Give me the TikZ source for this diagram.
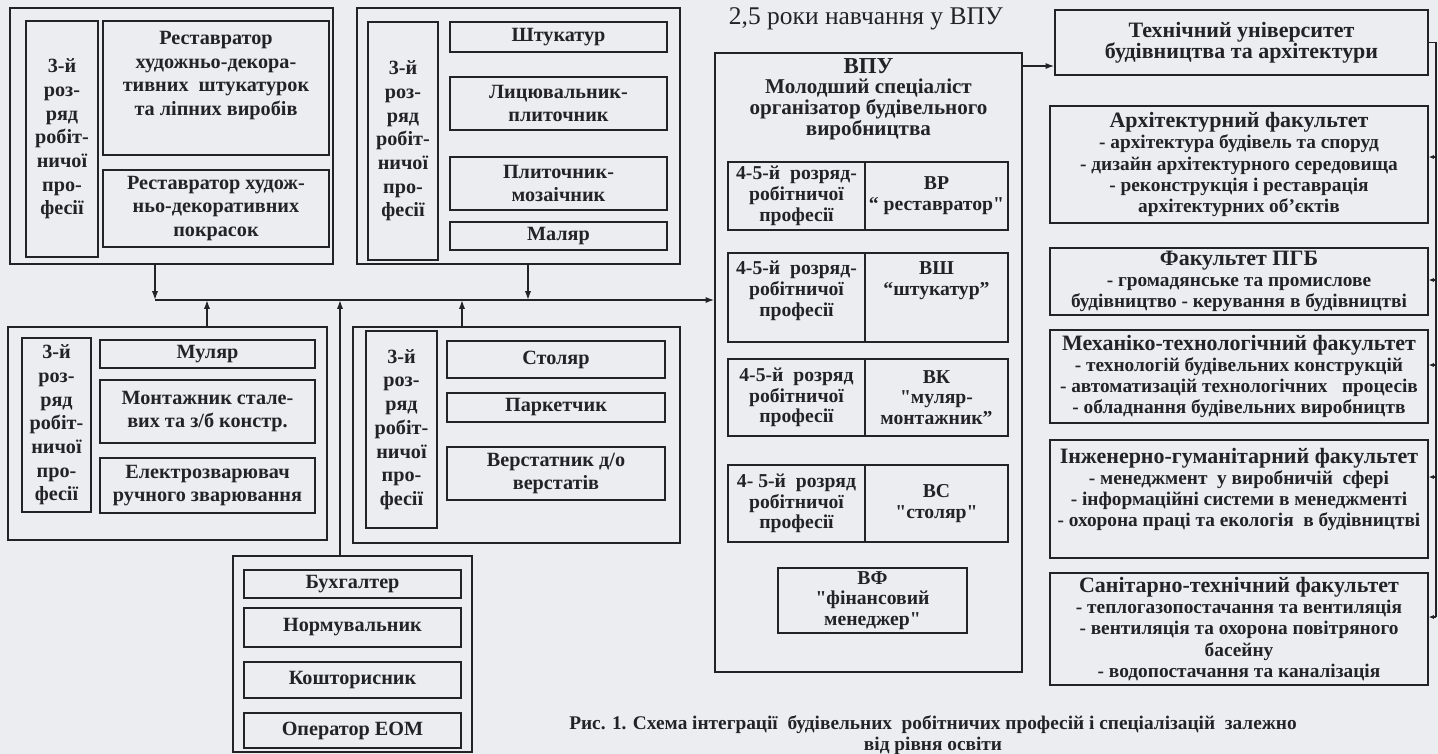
\documentclass[tikz,border=0pt]{standalone}
\usepackage{fontspec}
\setmainfont{Liberation Serif}
\usetikzlibrary{arrows.meta}

\definecolor{paper}{RGB}{236,237,241}
\definecolor{ink}{RGB}{35,35,38}

\newcommand{\rankthree}{3-й\\роз-\\ряд\\робіт-\\ничої\\про-\\фесії}
\newcommand{\fhead}[1]{{\fontsize{12.5}{13}\selectfont #1}}
\newcommand{\qq}{\textquotedbl}

\tikzset{
  sz/.style 2 args={minimum width=#1*0.02cm,minimum height=#2*0.02cm},
  grp/.style={draw=ink,line width=0.8pt,rectangle,inner sep=0pt},
  txt/.style={align=center,inner sep=0pt,text=ink,font=\bfseries\fontsize{11.5}{13.5}\selectfont},
  job/.style={draw=ink,line width=0.8pt,rectangle,txt},
  spec/.style={job,font=\bfseries\fontsize{11.2}{11.8}\selectfont},
  fac/.style={job,font=\bfseries\fontsize{11}{12}\selectfont},
  arr/.style={draw=ink,line width=0.8pt,-{Latex[length=5pt,width=3.5pt]}},
  farr/.style={draw=ink,line width=0.8pt,-{Latex[length=3pt,width=2.5pt]}},
  ln/.style={draw=ink,line width=0.8pt}
}

\begin{document}
\begin{tikzpicture}[x=0.02cm,y=-0.02cm]
  \fill[paper] (0,0) rectangle (1438,754);
  \useasboundingbox (0,0) rectangle (1438,754);

  % groups of 3-rd rank
  \node at (171.5,136) [grp,sz={323}{256}] (g1) {};
  \node at (62,139) [job,sz={72}{236}] (g1r) {\rankthree};
  \node at (216,88) [job,sz={226}{134}] (g1a) {};
  \node at ([yshift=-6pt]g1a.north) [txt,anchor=north] (g1atxt)
    {Реставратор\\художньо-декора-\\тивних\ \ штукатурок\\та ліпних виробів};
  \node at (216,208.5) [job,sz={226}{77}] (g1b)
    {Реставратор худож-\\ньо-декоративних\\покрасок};

  \node at (518.5,136) [grp,sz={323}{256}] (g2) {};
  \node at (403,141) [job,sz={70}{238}] (g2r) {\rankthree};
  \node at (558.5,37) [job,sz={217}{30}] (g2a) {Штукатур};
  \node at (558.5,103.5) [job,sz={217}{53}] (g2b) {Лицювальник-\\плиточник};
  \node at (558.5,183.5) [job,sz={217}{53}] (g2c) {Плиточник-\\мозаічник};
  \node at (558.5,236) [job,sz={217}{28}] (g2d) {Маляр};

  \node at (167.5,433.5) [grp,sz={319}{213}] (g3) {};
  \node at (56.5,425) [job,sz={69}{174}] (g3r) {\rankthree};
  \node at (207.5,354) [job,sz={215}{28}] (g3a) {Муляр};
  \node at (207.5,411.5) [job,sz={215}{63}] (g3b) {Монтажник стале-\\вих та з/б\ констр.};
  \node at (207.5,485.5) [job,sz={215}{55}] (g3c) {Електрозварювач\\ручного зварювання};

  \node at (516.5,435) [grp,sz={327}{216}] (g4) {};
  \node at (401.5,429.5) [job,sz={71}{197}] (g4r) {\rankthree};
  \node at (556,359.5) [job,sz={218}{37}] (g4a) {Столяр};
  \node at (556,407.5) [job,sz={218}{29}] (g4b) {Паркетчик};
  \node at (556,473.5) [job,sz={218}{53}] (g4c) {Верстатник д/о\\верстатів};

  \node at (352.5,654) [grp,sz={239}{196}] (g5) {};
  \node at (352.5,584) [job,sz={217}{28}] (g5a) {Бухгалтер};
  \node at (352.5,627.5) [job,sz={217}{39}] (g5b) {Нормувальник};
  \node at (352.5,680) [job,sz={217}{36}] (g5c) {Кошторисник};
  \node at (352.5,730.5) [job,sz={217}{35}] (g5d) {Оператор ЕОМ};

  % bus to VPU
  \coordinate (b1) at (155,300);
  \coordinate (b2) at (207,300);
  \coordinate (b3) at (340,300);
  \coordinate (b4) at (462,300);
  \coordinate (b5) at (528,300);
  \draw[arr] (b1 |- g1.south) -- (b1);
  \draw[arr] (b5 |- g2.south) -- (b5);
  \draw[arr] (b2 |- g3.north) -- (b2);
  \draw[arr] (b4 |- g4.north) -- (b4);
  \draw[arr] (b3 |- g5.north) -- (b3);

  % VPU
  \node at (866,19) [text=ink,font=\fontsize{14.5}{16}\selectfont] (years) {2,5 роки навчання у ВПУ};
  \node at (868.5,362.5) [grp,sz={307}{619}] (vpu) {};
  \node at (868.5,99) [txt,font=\bfseries\fontsize{12}{11.8}\selectfont] (vputtl)
    {{\fontsize{13}{12}\selectfont ВПУ}\\Молодший спеціаліст\\організатор будівельного\\виробництва};
  \draw[arr] (b1) -- (b1 -| vpu.west);

  \node at (796.5,196) [spec,sz={137}{68}] (vrl) {4-5-й\ \ розряд-\\робітничої\\професії};
  \node at (936.5,196) [spec,sz={143}{68}] (vrr) {ВР\\“ реставратор\qq};
  \node at (796.5,297.5) [spec,sz={137}{89}] (vshl) {};
  \node at ([yshift=-5pt]vshl.north) [txt,anchor=north,font=\bfseries\fontsize{11.2}{11.8}\selectfont] (vshltxt)
    {4-5-й\ \ розряд-\\робітничої\\професії};
  \node at (936.5,297.5) [spec,sz={143}{89}] (vshr) {};
  \node at ([yshift=-5pt]vshr.north) [txt,anchor=north,font=\bfseries\fontsize{11.2}{11.8}\selectfont] (vshrtxt)
    {ВШ\\“штукатур”};
  \node at (796.5,397.5) [spec,sz={137}{77}] (vkl) {4-5-й\ \ розряд\\робітничої\\професії};
  \node at (936.5,397.5) [spec,sz={143}{77}] (vkr) {ВК\\\qq муляр-\\монтажник”};
  \node at (796.5,503.5) [spec,sz={137}{77}] (vsl) {4-\ 5-й\ \ розряд\\робітничої\\професії};
  \node at (936.5,503.5) [spec,sz={143}{77}] (vsr) {ВС\\\qq столяр\qq};
  \node at (872.5,600.5) [spec,sz={189}{65}] (vf) {ВФ\\\qq фінансовий\\менеджер\qq};

  % university
  \node at (1241.5,42.5) [fac,sz={373}{65}] (tu)
    {\fhead{Технічний університет}\\\fhead{будівництва та архітектури}};
  \node at (1239,164.5) [fac,sz={378}{117}] (arch)
    {\fhead{Архітектурний факультет}\\- архітектура будівель та споруд\\- дизайн архітектурного середовища\\- реконструкція і реставрація\\архітектурних об’єктів};
  \node at (1239,281.5) [fac,sz={378}{67}] (pgb)
    {\fhead{Факультет ПГБ}\\- громадянське та промислове\\будівництво - керування в будівництві};
  \node at (1239,376.5) [fac,sz={378}{93}] (mech)
    {\fhead{Механіко-технологічний факультет}\\- технологій будівельних конструкцій\\- автоматизацій технологічних\ \ \ процесів\\- обладнання будівельних виробництв};
  \node at (1239,499) [fac,sz={378}{118}] (eng) {};
  \node at ([yshift=-5pt]eng.north) [txt,anchor=north,font=\bfseries\fontsize{11}{12}\selectfont] (engtxt)
    {\fhead{Інженерно-гуманітарний факультет}\\- менеджмент\ \ у виробничій\ \ сфері\\- інформаційні системи в менеджменті\\- охорона праці та екологія\ \ в будівництві};
  \node at (1239,629) [fac,sz={378}{112}] (san)
    {\fhead{Санітарно-технічний факультет}\\- теплогазопостачання та вентиляція\\- вентиляція та охорона повітряного\\басейну\\- водопостачання та каналізація};

  \coordinate (vt) at (1000,66);
  \draw[arr] (vt -| vpu.east) -- (vt -| tu.west);
  \coordinate (rb) at (1436,42.5);
  \coordinate (ra) at (1436,157);
  \coordinate (rp) at (1436,280);
  \coordinate (rm) at (1436,365);
  \coordinate (re) at (1436,477);
  \coordinate (rs) at (1436,617);
  \draw[ln] (tu.east) -- (rb) -- (rs);
  \draw[farr] (ra) -- (ra -| arch.east);
  \draw[farr] (rp) -- (rp -| pgb.east);
  \draw[farr] (rm) -- (rm -| mech.east);
  \draw[farr] (re) -- (re -| eng.east);
  \draw[farr] (rs) -- (rs -| san.east);

  % caption
  \node at (933,735) [txt,font=\bfseries\fontsize{11}{12}\selectfont] (caption)
    {Рис. 1. Схема інтеграції\ \ будівельних\ \ робітничих професій і спеціалізацій\ \ залежно\\від рівня освіти};
\end{tikzpicture}
\end{document}
